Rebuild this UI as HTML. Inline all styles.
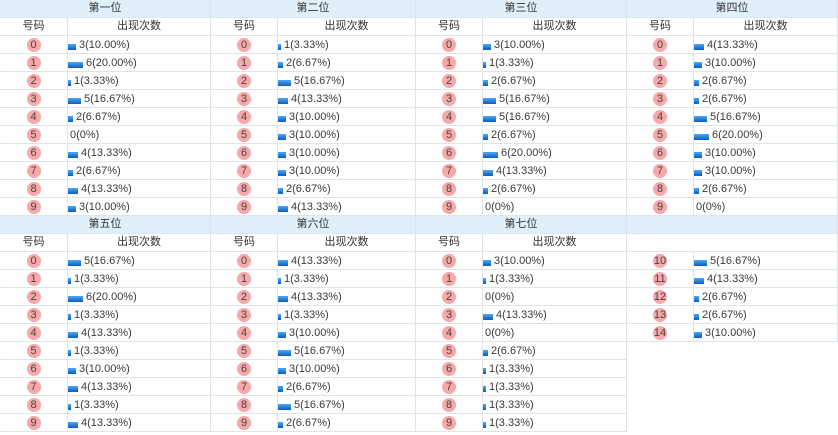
<!DOCTYPE html>
<html><head><meta charset="utf-8">
<style>
html,body{margin:0;padding:0;background:#fff}
body{width:838px;height:435px;position:relative;overflow:hidden;font-family:"Liberation Sans","Noto Sans CJK SC",sans-serif;font-size:11px;color:#333}
.blk{position:absolute;border-right:1px solid #dfe4ea}
.h{height:17px;line-height:17px;background:#e0f0fb;text-align:center;border-bottom:1px solid #dfe4ea;color:#333}
.r{position:relative;height:17px;border-bottom:1px solid #dfe4ea}
.n{position:absolute;left:0;top:0;height:17px;width:66px;border-right:1px solid #dfe4ea;text-align:center;line-height:17px}
.A .n{width:67px}
.v{position:absolute;top:0;left:67px;right:0;height:17px;white-space:nowrap}
.A .v{left:68px}
.v.c{text-align:center;line-height:17px}
.n i{position:absolute;left:50%;top:2px;margin-left:-7px;width:14px;height:14px;border-radius:50%;background:#f7a8a8;font-style:normal;line-height:14px;text-align:center;font-size:11px;color:#444}
.v b{position:absolute;left:0;top:8px;height:6px;background:linear-gradient(#4ea8f2,#0a5cc0)}
.v span{position:absolute;top:0;line-height:18px;color:#3a3a3a}
.a3{width:3px}.a6{width:5px}.a10{width:8px}.a13{width:10px}.a16{width:13px}.a20{width:15px}
.t0{left:2px}.t3{left:6px}.t6{left:8px}.t10{left:11px}.t13{left:13px}.t16{left:16px}.t20{left:18px}
</style></head><body>

<!-- Block 1 col A -->
<div class="blk A" style="left:0;top:0;width:210px">
<div class="h">第一位</div>
<div class="r"><div class="n">号码</div><div class="v c">出现次数</div></div>
<div class="r"><div class="n"><i>0</i></div><div class="v"><b class="a10"></b><span class="t10">3(10.00%)</span></div></div>
<div class="r"><div class="n"><i>1</i></div><div class="v"><b class="a20"></b><span class="t20">6(20.00%)</span></div></div>
<div class="r"><div class="n"><i>2</i></div><div class="v"><b class="a3"></b><span class="t3">1(3.33%)</span></div></div>
<div class="r"><div class="n"><i>3</i></div><div class="v"><b class="a16"></b><span class="t16">5(16.67%)</span></div></div>
<div class="r"><div class="n"><i>4</i></div><div class="v"><b class="a6"></b><span class="t6">2(6.67%)</span></div></div>
<div class="r"><div class="n"><i>5</i></div><div class="v"><span class="t0">0(0%)</span></div></div>
<div class="r"><div class="n"><i>6</i></div><div class="v"><b class="a13"></b><span class="t13">4(13.33%)</span></div></div>
<div class="r"><div class="n"><i>7</i></div><div class="v"><b class="a6"></b><span class="t6">2(6.67%)</span></div></div>
<div class="r"><div class="n"><i>8</i></div><div class="v"><b class="a13"></b><span class="t13">4(13.33%)</span></div></div>
<div class="r"><div class="n"><i>9</i></div><div class="v"><b class="a10"></b><span class="t10">3(10.00%)</span></div></div>
</div>

<!-- Block 1 col B -->
<div class="blk" style="left:211px;top:0;width:204px">
<div class="h">第二位</div>
<div class="r"><div class="n">号码</div><div class="v c">出现次数</div></div>
<div class="r"><div class="n"><i>0</i></div><div class="v"><b class="a3"></b><span class="t3">1(3.33%)</span></div></div>
<div class="r"><div class="n"><i>1</i></div><div class="v"><b class="a6"></b><span class="t6">2(6.67%)</span></div></div>
<div class="r"><div class="n"><i>2</i></div><div class="v"><b class="a16"></b><span class="t16">5(16.67%)</span></div></div>
<div class="r"><div class="n"><i>3</i></div><div class="v"><b class="a13"></b><span class="t13">4(13.33%)</span></div></div>
<div class="r"><div class="n"><i>4</i></div><div class="v"><b class="a10"></b><span class="t10">3(10.00%)</span></div></div>
<div class="r"><div class="n"><i>5</i></div><div class="v"><b class="a10"></b><span class="t10">3(10.00%)</span></div></div>
<div class="r"><div class="n"><i>6</i></div><div class="v"><b class="a10"></b><span class="t10">3(10.00%)</span></div></div>
<div class="r"><div class="n"><i>7</i></div><div class="v"><b class="a10"></b><span class="t10">3(10.00%)</span></div></div>
<div class="r"><div class="n"><i>8</i></div><div class="v"><b class="a6"></b><span class="t6">2(6.67%)</span></div></div>
<div class="r"><div class="n"><i>9</i></div><div class="v"><b class="a13"></b><span class="t13">4(13.33%)</span></div></div>
</div>

<!-- Block 1 col C -->
<div class="blk" style="left:416px;top:0;width:210px">
<div class="h">第三位</div>
<div class="r"><div class="n">号码</div><div class="v c">出现次数</div></div>
<div class="r"><div class="n"><i>0</i></div><div class="v"><b class="a10"></b><span class="t10">3(10.00%)</span></div></div>
<div class="r"><div class="n"><i>1</i></div><div class="v"><b class="a3"></b><span class="t3">1(3.33%)</span></div></div>
<div class="r"><div class="n"><i>2</i></div><div class="v"><b class="a6"></b><span class="t6">2(6.67%)</span></div></div>
<div class="r"><div class="n"><i>3</i></div><div class="v"><b class="a16"></b><span class="t16">5(16.67%)</span></div></div>
<div class="r"><div class="n"><i>4</i></div><div class="v"><b class="a16"></b><span class="t16">5(16.67%)</span></div></div>
<div class="r"><div class="n"><i>5</i></div><div class="v"><b class="a6"></b><span class="t6">2(6.67%)</span></div></div>
<div class="r"><div class="n"><i>6</i></div><div class="v"><b class="a20"></b><span class="t20">6(20.00%)</span></div></div>
<div class="r"><div class="n"><i>7</i></div><div class="v"><b class="a13"></b><span class="t13">4(13.33%)</span></div></div>
<div class="r"><div class="n"><i>8</i></div><div class="v"><b class="a6"></b><span class="t6">2(6.67%)</span></div></div>
<div class="r"><div class="n"><i>9</i></div><div class="v"><span class="t0">0(0%)</span></div></div>
</div>

<!-- Block 1 col D -->
<div class="blk" style="left:627px;top:0;width:210px">
<div class="h">第四位</div>
<div class="r"><div class="n">号码</div><div class="v c">出现次数</div></div>
<div class="r"><div class="n"><i>0</i></div><div class="v"><b class="a13"></b><span class="t13">4(13.33%)</span></div></div>
<div class="r"><div class="n"><i>1</i></div><div class="v"><b class="a10"></b><span class="t10">3(10.00%)</span></div></div>
<div class="r"><div class="n"><i>2</i></div><div class="v"><b class="a6"></b><span class="t6">2(6.67%)</span></div></div>
<div class="r"><div class="n"><i>3</i></div><div class="v"><b class="a6"></b><span class="t6">2(6.67%)</span></div></div>
<div class="r"><div class="n"><i>4</i></div><div class="v"><b class="a16"></b><span class="t16">5(16.67%)</span></div></div>
<div class="r"><div class="n"><i>5</i></div><div class="v"><b class="a20"></b><span class="t20">6(20.00%)</span></div></div>
<div class="r"><div class="n"><i>6</i></div><div class="v"><b class="a10"></b><span class="t10">3(10.00%)</span></div></div>
<div class="r"><div class="n"><i>7</i></div><div class="v"><b class="a10"></b><span class="t10">3(10.00%)</span></div></div>
<div class="r"><div class="n"><i>8</i></div><div class="v"><b class="a6"></b><span class="t6">2(6.67%)</span></div></div>
<div class="r"><div class="n"><i>9</i></div><div class="v"><span class="t0">0(0%)</span></div></div>
</div>

<!-- Block 2 col A -->
<div class="blk A" style="left:0;top:216px;width:210px">
<div class="h">第五位</div>
<div class="r"><div class="n">号码</div><div class="v c">出现次数</div></div>
<div class="r"><div class="n"><i>0</i></div><div class="v"><b class="a16"></b><span class="t16">5(16.67%)</span></div></div>
<div class="r"><div class="n"><i>1</i></div><div class="v"><b class="a3"></b><span class="t3">1(3.33%)</span></div></div>
<div class="r"><div class="n"><i>2</i></div><div class="v"><b class="a20"></b><span class="t20">6(20.00%)</span></div></div>
<div class="r"><div class="n"><i>3</i></div><div class="v"><b class="a3"></b><span class="t3">1(3.33%)</span></div></div>
<div class="r"><div class="n"><i>4</i></div><div class="v"><b class="a13"></b><span class="t13">4(13.33%)</span></div></div>
<div class="r"><div class="n"><i>5</i></div><div class="v"><b class="a3"></b><span class="t3">1(3.33%)</span></div></div>
<div class="r"><div class="n"><i>6</i></div><div class="v"><b class="a10"></b><span class="t10">3(10.00%)</span></div></div>
<div class="r"><div class="n"><i>7</i></div><div class="v"><b class="a13"></b><span class="t13">4(13.33%)</span></div></div>
<div class="r"><div class="n"><i>8</i></div><div class="v"><b class="a3"></b><span class="t3">1(3.33%)</span></div></div>
<div class="r"><div class="n"><i>9</i></div><div class="v"><b class="a13"></b><span class="t13">4(13.33%)</span></div></div>
</div>

<!-- Block 2 col B -->
<div class="blk" style="left:211px;top:216px;width:204px">
<div class="h">第六位</div>
<div class="r"><div class="n">号码</div><div class="v c">出现次数</div></div>
<div class="r"><div class="n"><i>0</i></div><div class="v"><b class="a13"></b><span class="t13">4(13.33%)</span></div></div>
<div class="r"><div class="n"><i>1</i></div><div class="v"><b class="a3"></b><span class="t3">1(3.33%)</span></div></div>
<div class="r"><div class="n"><i>2</i></div><div class="v"><b class="a13"></b><span class="t13">4(13.33%)</span></div></div>
<div class="r"><div class="n"><i>3</i></div><div class="v"><b class="a3"></b><span class="t3">1(3.33%)</span></div></div>
<div class="r"><div class="n"><i>4</i></div><div class="v"><b class="a10"></b><span class="t10">3(10.00%)</span></div></div>
<div class="r"><div class="n"><i>5</i></div><div class="v"><b class="a16"></b><span class="t16">5(16.67%)</span></div></div>
<div class="r"><div class="n"><i>6</i></div><div class="v"><b class="a10"></b><span class="t10">3(10.00%)</span></div></div>
<div class="r"><div class="n"><i>7</i></div><div class="v"><b class="a6"></b><span class="t6">2(6.67%)</span></div></div>
<div class="r"><div class="n"><i>8</i></div><div class="v"><b class="a16"></b><span class="t16">5(16.67%)</span></div></div>
<div class="r"><div class="n"><i>9</i></div><div class="v"><b class="a6"></b><span class="t6">2(6.67%)</span></div></div>
</div>

<!-- Block 2 col C -->
<div class="blk" style="left:416px;top:216px;width:210px">
<div class="h">第七位</div>
<div class="r"><div class="n">号码</div><div class="v c">出现次数</div></div>
<div class="r"><div class="n"><i>0</i></div><div class="v"><b class="a10"></b><span class="t10">3(10.00%)</span></div></div>
<div class="r"><div class="n"><i>1</i></div><div class="v"><b class="a3"></b><span class="t3">1(3.33%)</span></div></div>
<div class="r"><div class="n"><i>2</i></div><div class="v"><span class="t0">0(0%)</span></div></div>
<div class="r"><div class="n"><i>3</i></div><div class="v"><b class="a13"></b><span class="t13">4(13.33%)</span></div></div>
<div class="r"><div class="n"><i>4</i></div><div class="v"><span class="t0">0(0%)</span></div></div>
<div class="r"><div class="n"><i>5</i></div><div class="v"><b class="a6"></b><span class="t6">2(6.67%)</span></div></div>
<div class="r"><div class="n"><i>6</i></div><div class="v"><b class="a3"></b><span class="t3">1(3.33%)</span></div></div>
<div class="r"><div class="n"><i>7</i></div><div class="v"><b class="a3"></b><span class="t3">1(3.33%)</span></div></div>
<div class="r"><div class="n"><i>8</i></div><div class="v"><b class="a3"></b><span class="t3">1(3.33%)</span></div></div>
<div class="r"><div class="n"><i>9</i></div><div class="v"><b class="a3"></b><span class="t3">1(3.33%)</span></div></div>
</div>

<!-- Block 2 col D -->
<div class="blk" style="left:627px;top:216px;width:210px">
<div class="h">&nbsp;</div>
<div class="r"></div>
<div class="r"><div class="n"><i>10</i></div><div class="v"><b class="a16"></b><span class="t16">5(16.67%)</span></div></div>
<div class="r"><div class="n"><i>11</i></div><div class="v"><b class="a13"></b><span class="t13">4(13.33%)</span></div></div>
<div class="r"><div class="n"><i>12</i></div><div class="v"><b class="a6"></b><span class="t6">2(6.67%)</span></div></div>
<div class="r"><div class="n"><i>13</i></div><div class="v"><b class="a6"></b><span class="t6">2(6.67%)</span></div></div>
<div class="r"><div class="n"><i>14</i></div><div class="v"><b class="a10"></b><span class="t10">3(10.00%)</span></div></div>
</div>

</body></html>
